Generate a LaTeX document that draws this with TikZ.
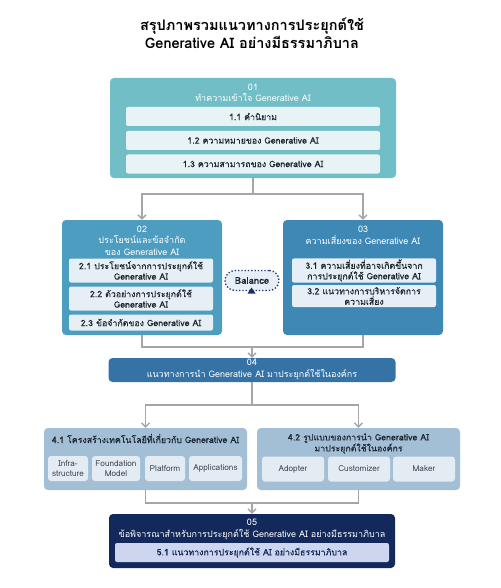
\documentclass[tikz,border=0pt]{standalone}
\usepackage{fontspec}
\setmainfont[Script=Thai]{Loma}
\newfontfamily\medfont[Script=Thai, FakeBold=0.4]{Loma}
\usetikzlibrary{arrows.meta}
\definecolor{cA}{HTML}{72BEC6}
\definecolor{cB}{HTML}{4C9DC0}
\definecolor{cC}{HTML}{3E88B5}
\definecolor{cD}{HTML}{3573A6}
\definecolor{cE}{HTML}{A3BFD6}
\definecolor{cF}{HTML}{13295B}
\definecolor{subA}{HTML}{E8F3F5}
\definecolor{subB}{HTML}{E5EFF5}
\definecolor{subE}{HTML}{E3EBF3}
\definecolor{subF}{HTML}{CDD6EE}
\definecolor{gline}{HTML}{A6A6A6}
\definecolor{txt}{HTML}{1E2530}
\definecolor{navy}{HTML}{1B2F6B}
\begin{document}
\begin{tikzpicture}[x=1pt,y=-1pt,
  bigbox/.style={rectangle, rounded corners=4pt, inner sep=0pt, fill=#1},
  subbox/.style={rectangle, rounded corners=2pt, inner sep=1pt, fill=#1, align=center, text=txt, font=\medfont\fontsize{8.8}{10.5}\selectfont},
  smallbox/.style={rectangle, rounded corners=3pt, inner sep=1pt, fill=subE, align=center, text=txt!85, font=\fontsize{8.2}{10}\selectfont, minimum height=25pt},
  hdr/.style={align=center, text=white, inner sep=0pt, font=\fontsize{9}{11.5}\selectfont},
  conn/.style={draw=gline, line width=1.3pt},
  arr/.style={conn, -{Straight Barb[length=4pt,width=8pt,line width=1.3pt]}}
]
\useasboundingbox[fill=white] (0,0) rectangle (500,588);

% title
\node[align=center, text=black, font=\bfseries\fontsize{14.5}{17.5}\selectfont] (title) at (252,33) {สรุปภาพรวมแนวทางการประยุกต์ใช้\\Generative AI อย่างมีธรรมาภิบาล};

% O1
\node[bigbox=cA, minimum width=286pt, minimum height=100pt] (o1) at (253,128) {};
\node[hdr] (o1t) at (253,93) {01\\ทำความเข้าใจ Generative AI};
\node[subbox=subA, minimum width=254pt, minimum height=19pt] (s11) at (253,116.5) {1.1 คำนิยาม};
\node[subbox=subA, minimum width=254pt, minimum height=19pt] (s12) at (253,140.5) {1.2 ความหมายของ Generative AI};
\node[subbox=subA, minimum width=254pt, minimum height=19pt] (s13) at (253,164) {1.3 ความสามารถของ Generative AI};

% O2
\node[bigbox=cB, minimum width=160pt, minimum height=115pt] (o2) at (142,277.5) {};
\node[hdr] (o2t) at (142,240.5) {02\\ประโยชน์และข้อจำกัด\\ของ Generative AI};
\node[subbox=subB, minimum width=144pt, minimum height=24pt] (s21) at (141,270.5) {2.1 ประโยชน์จากการประยุกต์ใช้\\Generative AI};
\node[subbox=subB, minimum width=144pt, minimum height=24pt] (s22) at (141,298.5) {2.2 ตัวอย่างการประยุกต์ใช้\\Generative AI};
\node[subbox=subB, minimum width=144pt, minimum height=16pt] (s23) at (141,322.5) {2.3 ข้อจำกัดของ Generative AI};

% O3
\node[bigbox=cC, minimum width=160pt, minimum height=115pt] (o3) at (363,277.5) {};
\node[hdr] (o3t) at (363,235.5) {03\\ความเสี่ยงของ Generative AI};
\node[subbox=subB, minimum width=144pt, minimum height=24pt] (s31) at (364,270.5) {3.1 ความเสี่ยงที่อาจเกิดขึ้นจาก\\การประยุกต์ใช้ Generative AI};
\node[subbox=subB, minimum width=144pt, minimum height=22pt] (s32) at (364,296) {3.2 แนวทางการบริหารจัดการ\\ความเสี่ยง};

% Balance
\node[rectangle, rounded corners=10pt, draw=navy, dotted, line width=1.3pt, fill=subB, minimum width=54pt, minimum height=20pt, inner sep=0pt, text=txt, font=\medfont\fontsize{9.5}{11}\selectfont] (bal) at (252,280.5) {Balance};
\fill[navy] (247.5,293.5) -- (251.5,287.5) -- (255.5,293.5) -- cycle;

% O4
\node[bigbox=cD, minimum width=287pt, minimum height=24pt] (o4) at (252,370) {};
\node[hdr] (o4t) at (252,369.5) {04\\แนวทางการนำ Generative AI มาประยุกต์ใช้ในองค์กร};

% 4.1
\node[bigbox=cE, minimum width=203pt, minimum height=62pt] (b41) at (145.5,459) {};
\node[text=txt, inner sep=0pt, font=\medfont\fontsize{8.8}{10}\selectfont] (b41t) at (145.5,438.5) {4.1 โครงสร้างเทคโนโลยีที่เกี่ยวกับ Generative AI};
\node[smallbox, minimum width=40pt] (i1) at (68,468.5) {Infra-\\structure};
\node[smallbox, minimum width=48pt] (i2) at (116,468.5) {Foundation\\Model};
\node[smallbox, minimum width=40pt] (i3) at (165,468.5) {Platform};
\node[smallbox, minimum width=53pt] (i4) at (215.5,468.5) {Applications};

% 4.2
\node[bigbox=cE, minimum width=203pt, minimum height=62pt] (b42) at (358.5,459) {};
\node[text=txt, align=center, inner sep=0pt, font=\medfont\fontsize{8.8}{11}\selectfont] (b42t) at (358.5,443.5) {4.2 รูปแบบของการนำ Generative AI\\มาประยุกต์ใช้ในองค์กร};
\node[smallbox, minimum width=62pt] (k1) at (293,469) {Adopter};
\node[smallbox, minimum width=62pt] (k2) at (359,469) {Customizer};
\node[smallbox, minimum width=62pt] (k3) at (424,469) {Maker};

% O5
\node[bigbox=cF, minimum width=286pt, minimum height=54pt] (o5) at (252,541) {};
\node[hdr] (o5t) at (252,529.5) {05\\ข้อพิจารณาสำหรับการประยุกต์ใช้ Generative AI อย่างมีธรรมาภิบาล};
\node[subbox=subF, minimum width=274pt, minimum height=19pt, text=cF] (s51) at (252,552.5) {5.1 แนวทางการประยุกต์ใช้ AI อย่างมีธรรมาภิบาล};

% connectors
\coordinate (j1) at (253,194);
\coordinate (j2) at (252,347);
\coordinate (j3) at (252,405);
\coordinate (j4) at (252,503);
\draw[conn] (o1.south) -- (j1);
\draw[arr] (j1) -| (o2.north);
\draw[arr] (j1) -| (o3.north);
\draw[conn] (o2.south) |- (j2) -| (o3.south);
\draw[arr] (j2) -- (o4.north);
\draw[conn] (o4.south) -- (j3);
\draw[arr] (j3) -| (b41.north);
\draw[arr] (j3) -| (b42.north);
\draw[conn] (b41.south) |- (j4) -| (b42.south);
\draw[arr] (j4) -- (o5.north);
\end{tikzpicture}
\end{document}
